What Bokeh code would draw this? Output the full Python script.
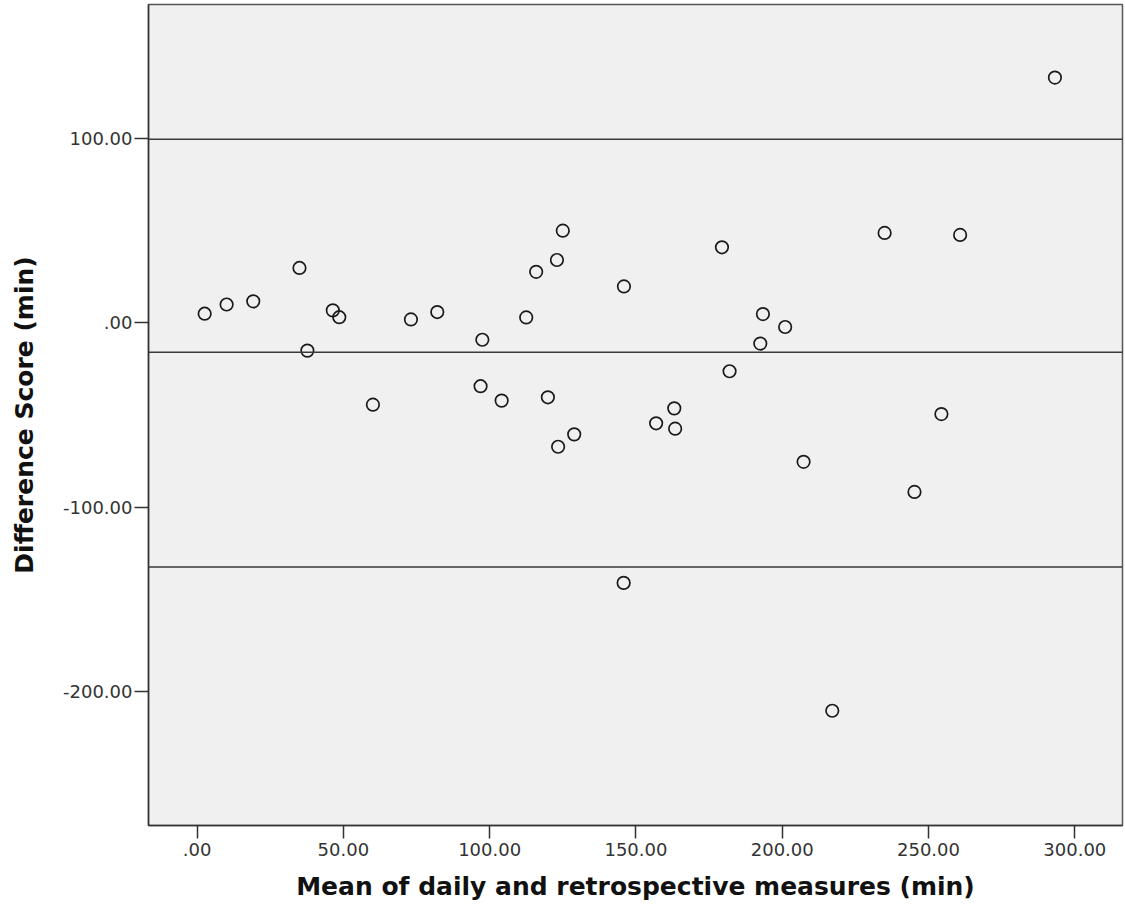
from bokeh.plotting import figure
from bokeh.models import Span, FixedTicker, Range1d
from bokeh.embed import file_html
from bokeh.resources import INLINE

# Bland-Altman data: mean of the two measures vs. their difference (minutes)
mean_minutes = [
    2.6, 10.1, 19.2, 35.0, 46.4, 48.6, 37.7, 60.1, 73.1, 82.1,
    97.5, 96.9, 104.1, 112.5, 115.9, 123.0, 125.0, 119.9, 128.9, 123.4,
    145.9, 145.8, 156.9, 163.1, 163.4, 179.4, 182.0, 192.5, 193.4, 201.0,
    207.3, 217.1, 235.0, 245.2, 254.4, 260.8, 293.2,
]
difference_minutes = [
    4.9, 9.9, 11.6, 29.7, 6.7, 3.0, -15.1, -44.4, 1.8, 5.8,
    -9.2, -34.4, -42.2, 2.9, 27.6, 34.0, 49.9, -40.4, -60.5, -67.2,
    19.7, -141.0, -54.5, -46.4, -57.4, 40.9, -26.3, -11.3, 4.7, -2.3,
    -75.4, -210.3, 48.7, -91.7, -49.5, 47.6, 132.9,
]

# Mean difference and limits of agreement
mean_diff = -16.0
upper_loa = 99.4
lower_loa = -132.4

x_ticks = [0, 50, 100, 150, 200, 250, 300]
x_tick_labels = [".00", "50.00", "100.00", "150.00", "200.00", "250.00", "300.00"]
y_ticks = [-200, -100, 0, 100]
y_tick_labels = ["-200.00", "-100.00", ".00", "100.00"]

x_title = "Mean of daily and retrospective measures (min)"
y_title = "Difference Score (min)"

p = figure(
    width=1125, height=913,
    x_range=Range1d(-16.6, 316.3), y_range=Range1d(-272.5, 172.5),
    output_backend="svg", toolbar_location=None,
    min_border_left=148, min_border_right=3, min_border_top=4, min_border_bottom=88,
)
p.background_fill_color = "#f0f0f0"
p.border_fill_color = "white"
p.outline_line_color = "#555555"
p.outline_line_width = 1.5
p.grid.visible = False

for val in (upper_loa, mean_diff, lower_loa):
    p.add_layout(Span(location=val, dimension="width", line_color="#3a3a3a", line_width=1.5))

p.scatter(mean_minutes, difference_minutes, marker="circle", size=12.5,
          fill_color=None, line_color="#1a1a1a", line_width=1.7)

p.xaxis.ticker = FixedTicker(ticks=x_ticks)
p.xaxis.major_label_overrides = dict(zip(x_ticks, x_tick_labels))
p.yaxis.ticker = FixedTicker(ticks=y_ticks)
p.yaxis.major_label_overrides = dict(zip(y_ticks, y_tick_labels))

for ax in (p.xaxis[0], p.yaxis[0]):
    ax.axis_line_color = "#333333"
    ax.axis_line_width = 1.5
    ax.major_tick_line_color = "#333333"
    ax.major_tick_line_width = 1.5
    ax.major_tick_in = 0
    ax.minor_tick_line_color = None
    ax.major_label_text_font = "DejaVu Sans"
    ax.major_label_text_font_size = "18px"
    ax.major_label_text_color = "#333333"
    ax.axis_label_text_font = "DejaVu Sans"
    ax.axis_label_text_font_style = "bold"
    ax.axis_label_text_font_size = "25px"
    ax.axis_label_text_color = "#111111"

p.xaxis.major_tick_out = 13
p.xaxis.major_label_standoff = 4
p.xaxis.axis_label = x_title
p.xaxis.axis_label_standoff = 13

p.yaxis.major_tick_out = 14
p.yaxis.major_label_standoff = 2
p.yaxis.axis_label = y_title
p.yaxis.axis_label_standoff = 21

open("out.html", "w").write(file_html(p, INLINE))
